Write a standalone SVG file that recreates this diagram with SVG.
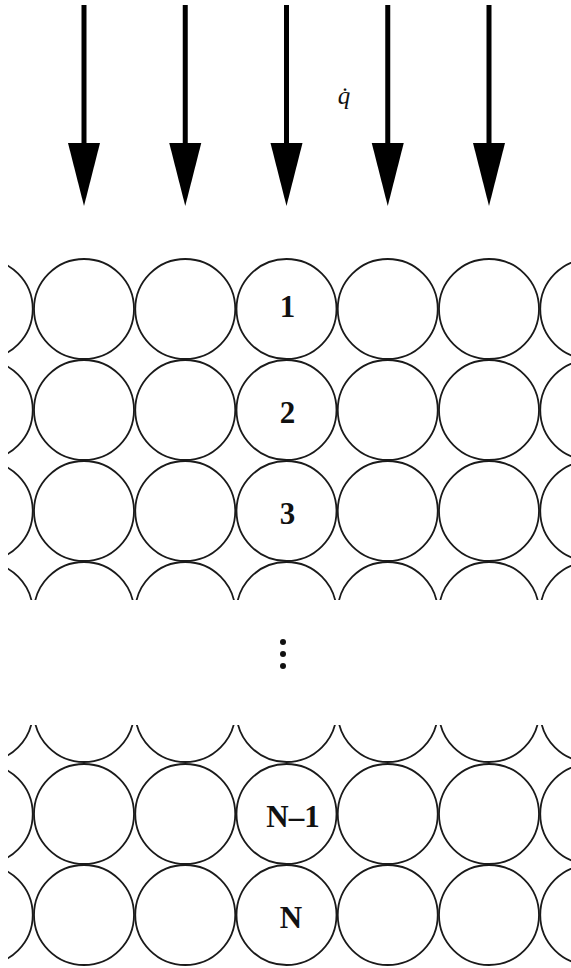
<svg xmlns="http://www.w3.org/2000/svg" xmlns:xlink="http://www.w3.org/1999/xlink" width="571" height="968" viewBox="0 0 571 968">
<style>
.c{fill:none;stroke:#1a1a1a;stroke-width:1.8}
.lbl{font-family:"Liberation Serif","Times New Roman",serif;font-weight:bold;font-size:31px;fill:#111;text-anchor:middle}
.ar{stroke:#000;stroke-width:5;fill:none}
.hd{fill:#000}
.dot{fill:#111}
</style>
<defs>
<circle id="c" class="c" r="50" cx="0" cy="0"/>
<clipPath id="clipL"><rect x="8" y="0" width="563" height="968"/></clipPath>
<clipPath id="clipTop"><rect x="8" y="0" width="563" height="600"/></clipPath>
<clipPath id="clipBot"><rect x="8" y="725" width="563" height="243"/></clipPath>
</defs>
<rect width="571" height="968" fill="#fff"/>
<g id="connectors">
<line class="ar" x1="84" y1="5" x2="84" y2="146"/><polygon class="hd" points="68,143 100,143 84,206"/>
<line class="ar" x1="185.25" y1="5" x2="185.25" y2="146"/><polygon class="hd" points="169.25,143 201.25,143 185.25,206"/>
<line class="ar" x1="286.5" y1="5" x2="286.5" y2="146"/><polygon class="hd" points="270.5,143 302.5,143 286.5,206"/>
<line class="ar" x1="387.75" y1="5" x2="387.75" y2="146"/><polygon class="hd" points="371.75,143 403.75,143 387.75,206"/>
<line class="ar" x1="489" y1="5" x2="489" y2="146"/><polygon class="hd" points="473,143 505,143 489,206"/>
</g>
<text id="qdot" x="344" y="104" font-family="'Liberation Serif','Times New Roman',serif" font-style="italic" font-size="25" text-anchor="middle" fill="#111">q̇</text>
<g clip-path="url(#clipL)">
<g id="row1">
<g id="r1c0"><use xlink:href="#c" x="-17.25" y="309"/></g>
<g id="r1c1"><use xlink:href="#c" x="84" y="309"/></g>
<g id="r1c2"><use xlink:href="#c" x="185.25" y="309"/></g>
<g id="node1"><use xlink:href="#c" x="286.5" y="309"/><text class="lbl" x="287.5" y="317">1</text></g>
<g id="r1c4"><use xlink:href="#c" x="387.75" y="309"/></g>
<g id="r1c5"><use xlink:href="#c" x="489" y="309"/></g>
<g id="r1c6"><use xlink:href="#c" x="590.25" y="309"/></g>
</g>
<g id="row2">
<g id="r2c0"><use xlink:href="#c" x="-17.25" y="410"/></g>
<g id="r2c1"><use xlink:href="#c" x="84" y="410"/></g>
<g id="r2c2"><use xlink:href="#c" x="185.25" y="410"/></g>
<g id="node2"><use xlink:href="#c" x="286.5" y="410"/><text class="lbl" x="287.5" y="423">2</text></g>
<g id="r2c4"><use xlink:href="#c" x="387.75" y="410"/></g>
<g id="r2c5"><use xlink:href="#c" x="489" y="410"/></g>
<g id="r2c6"><use xlink:href="#c" x="590.25" y="410"/></g>
</g>
<g id="row3">
<g id="r3c0"><use xlink:href="#c" x="-17.25" y="511"/></g>
<g id="r3c1"><use xlink:href="#c" x="84" y="511"/></g>
<g id="r3c2"><use xlink:href="#c" x="185.25" y="511"/></g>
<g id="node3"><use xlink:href="#c" x="286.5" y="511"/><text class="lbl" x="287.5" y="524">3</text></g>
<g id="r3c4"><use xlink:href="#c" x="387.75" y="511"/></g>
<g id="r3c5"><use xlink:href="#c" x="489" y="511"/></g>
<g id="r3c6"><use xlink:href="#c" x="590.25" y="511"/></g>
</g>
<g id="row4" clip-path="url(#clipTop)">
<g id="r4c0"><use xlink:href="#c" x="-17.25" y="612"/></g>
<g id="r4c1"><use xlink:href="#c" x="84" y="612"/></g>
<g id="r4c2"><use xlink:href="#c" x="185.25" y="612"/></g>
<g id="r4c3"><use xlink:href="#c" x="286.5" y="612"/></g>
<g id="r4c4"><use xlink:href="#c" x="387.75" y="612"/></g>
<g id="r4c5"><use xlink:href="#c" x="489" y="612"/></g>
<g id="r4c6"><use xlink:href="#c" x="590.25" y="612"/></g>
</g>
<g id="row5" clip-path="url(#clipBot)">
<g id="r5c0"><use xlink:href="#c" x="-17.25" y="712"/></g>
<g id="r5c1"><use xlink:href="#c" x="84" y="712"/></g>
<g id="r5c2"><use xlink:href="#c" x="185.25" y="712"/></g>
<g id="r5c3"><use xlink:href="#c" x="286.5" y="712"/></g>
<g id="r5c4"><use xlink:href="#c" x="387.75" y="712"/></g>
<g id="r5c5"><use xlink:href="#c" x="489" y="712"/></g>
<g id="r5c6"><use xlink:href="#c" x="590.25" y="712"/></g>
</g>
<g id="row6">
<g id="r6c0"><use xlink:href="#c" x="-17.25" y="814"/></g>
<g id="r6c1"><use xlink:href="#c" x="84" y="814"/></g>
<g id="r6c2"><use xlink:href="#c" x="185.25" y="814"/></g>
<g id="nodeN-1"><use xlink:href="#c" x="286.5" y="814"/><text class="lbl" x="293" y="827">N–1</text></g>
<g id="r6c4"><use xlink:href="#c" x="387.75" y="814"/></g>
<g id="r6c5"><use xlink:href="#c" x="489" y="814"/></g>
<g id="r6c6"><use xlink:href="#c" x="590.25" y="814"/></g>
</g>
<g id="row7">
<g id="r7c0"><use xlink:href="#c" x="-17.25" y="915"/></g>
<g id="r7c1"><use xlink:href="#c" x="84" y="915"/></g>
<g id="r7c2"><use xlink:href="#c" x="185.25" y="915"/></g>
<g id="nodeN"><use xlink:href="#c" x="286.5" y="915"/><text class="lbl" x="291" y="928">N</text></g>
<g id="r7c4"><use xlink:href="#c" x="387.75" y="915"/></g>
<g id="r7c5"><use xlink:href="#c" x="489" y="915"/></g>
<g id="r7c6"><use xlink:href="#c" x="590.25" y="915"/></g>
</g>
</g>
<g id="vdots">
<circle class="dot" cx="283" cy="642" r="3"/>
<circle class="dot" cx="283" cy="654" r="3"/>
<circle class="dot" cx="283" cy="666" r="3"/>
</g>
</svg>
